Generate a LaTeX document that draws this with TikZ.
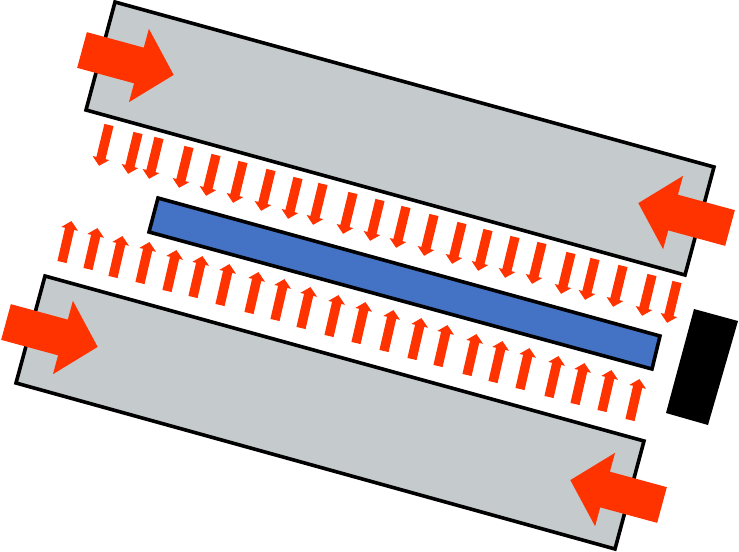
\documentclass[tikz,border=0pt]{standalone}
\definecolor{platecolor}{HTML}{C5CACD}
\definecolor{bladecolor}{HTML}{4472C4}
\definecolor{flowcolor}{HTML}{FF3300}
\tikzset{
  plate/.style={draw=black,line width=0.036cm,fill=platecolor,line join=miter},
  blade/.style={draw=black,line width=0.036cm,fill=bladecolor,line join=miter},
  flow/.style={fill=flowcolor}
}
\newcommand{\bigflow}[3]{\fill[flow,shift={(#1,#2)},rotate=#3] (0,-18.5) -- (59,-18.5) -- (59,-38) -- (95,0) -- (59,38) -- (59,18.5) -- (0,18.5) -- cycle;}
\newcommand{\smallflow}[3]{\fill[flow,shift={(#1,#2)},rotate=#3] (0,-4.7) -- (34,-4.7) -- (34,-8.6) -- (42,0) -- (34,8.6) -- (34,4.7) -- (0,4.7) -- cycle;}
\begin{document}
\begin{tikzpicture}[x=0.01cm,y=-0.01cm]
\useasboundingbox (0,0) rectangle (739,551);
% plates
\filldraw[plate] (115,2) -- (714,167) -- (685,275) -- (86,110) -- cycle;
\filldraw[plate] (45,276) -- (644,441) -- (615,549) -- (16,383) -- cycle;
\filldraw[blade] (158,198) -- (660,336) -- (652,369) -- (149,232) -- cycle;
\fill[black] (694,309) -- (738,321) -- (708,425) -- (666,413) -- cycle;
% big arrows
\bigflow{82}{50}{-15.2}
\bigflow{6}{322}{-15.2}
\bigflow{730}{228}{164.8}
\bigflow{662}{505}{164.8}
% small arrows, upper row
\foreach \x/\y in {109/125,138/133,159/138,189/147,216/155,243/162,271/170,298/178,323/184,353/193,380/200,406/207,434/215,462/223,488/230,515/237,542/243,571/253,595/259,623/266,652/275,677/282} {
  \smallflow{\x}{\y}{-103.7}
}
% small arrows, lower row
\foreach \x/\y in {62/262,88/269,113/277,140/283,167/291,193/297,220/305,249/313,275/320,301/328,329/336,356/343,384/351,412/359,438/366,467/375,493/382,520/389,549/397,575/404,602/411,630/420} {
  \smallflow{\x}{\y}{77}
}
\end{tikzpicture}
\end{document}
